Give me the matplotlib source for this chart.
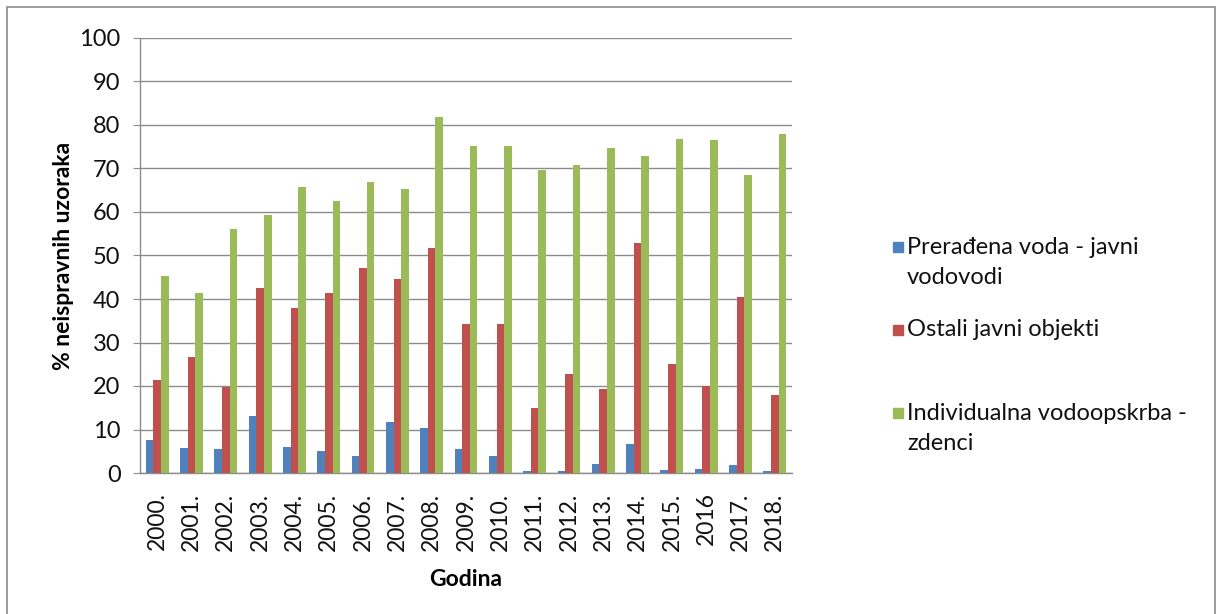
import matplotlib
matplotlib.use("Agg")
import matplotlib.pyplot as plt
from matplotlib.patches import Rectangle
import numpy as np

plt.rcParams['font.family'] = ['Lato', 'DejaVu Sans']

years = ["2000.", "2001.", "2002.", "2003.", "2004.", "2005.", "2006.", "2007.", "2008.", "2009.",
         "2010.", "2011.", "2012.", "2013.", "2014.", "2015.", "2016", "2017.", "2018."]
preradjena = [7.5, 5.8, 5.5, 13.2, 6.0, 5.0, 3.8, 11.7, 10.3, 5.5,
              3.8, 0.5, 0.4, 2.1, 6.7, 0.7, 1.0, 1.8, 0.5]
ostali = [21.4, 26.6, 19.7, 42.5, 37.9, 41.3, 47.2, 44.7, 51.8, 34.2,
          34.2, 14.9, 22.8, 19.2, 52.9, 25.1, 20.1, 40.4, 18.0]
individualna = [45.3, 41.3, 56.1, 59.2, 65.7, 62.6, 66.8, 65.4, 81.9, 75.1,
                75.1, 69.7, 70.8, 74.6, 72.8, 76.8, 76.5, 68.6, 77.9]
series_names = ["Prerađena voda - javni\nvodovodi", "Ostali javni objekti",
                "Individualna vodoopskrba -\nzdenci"]
colors = ["#4F81BD", "#C0504D", "#9BBB59"]

W, H = 1223, 614
fig = plt.figure(figsize=(W / 100, H / 100), dpi=100)
ax = fig.add_axes([140 / W, 1 - 473 / H, (792 - 140) / W, (473 - 38) / H])

x = np.arange(len(years))
bw = 0.222
for i, vals in enumerate([preradjena, ostali, individualna]):
    ax.bar(x + (i - 1) * bw, vals, width=bw, color=colors[i], zorder=3)

ax.set_xlim(-0.5, len(years) - 0.5)
ax.set_ylim(0, 100)
ax.set_yticks(range(0, 101, 10))
ax.yaxis.grid(True, color="#8c8c8c", linewidth=1.0, zorder=0)
ax.set_axisbelow(True)
for s in ["top", "right"]:
    ax.spines[s].set_visible(False)
for s in ["left", "bottom"]:
    ax.spines[s].set_color("#8c8c8c")
    ax.spines[s].set_linewidth(1.0)
ax.tick_params(axis="y", length=5, color="#8c8c8c", labelsize=17, pad=9, labelcolor="#111111")
ax.set_xticks(x)
ax.set_xticklabels(years, rotation=90, fontsize=16.5, color="#111111")
ax.tick_params(axis="x", length=0, pad=14)

ax.set_ylabel("% neispravnih uzoraka", fontsize=16.5, fontweight="bold", labelpad=4)
ax.set_xlabel("Godina", fontsize=16.5, fontweight="bold", labelpad=13)

# legend (manual, Excel-style: marker aligned to first line)
leg_rows = [(247, 278), (330,), (413, 444)]
for name, col, rows in zip(series_names, colors, leg_rows):
    lines = name.split("\n")
    y0 = rows[0]
    fig.patches.append(Rectangle((893 / W, 1 - (y0 + 5) / H), 10 / W, 10 / H,
                                 transform=fig.transFigure, color=col))
    for ln, yy in zip(lines, rows):
        fig.text(907 / W, 1 - yy / H, ln, fontsize=17, va="center", ha="left", color="#111111")

# outer frame
fig.patches.append(Rectangle((7 / W, -0.02), (1215 - 7) / W, 1 - 7 / H + 0.02,
                             transform=fig.transFigure, fill=False, edgecolor="#8c8c8c", linewidth=1.2))

fig.savefig("out.png", dpi=100)
